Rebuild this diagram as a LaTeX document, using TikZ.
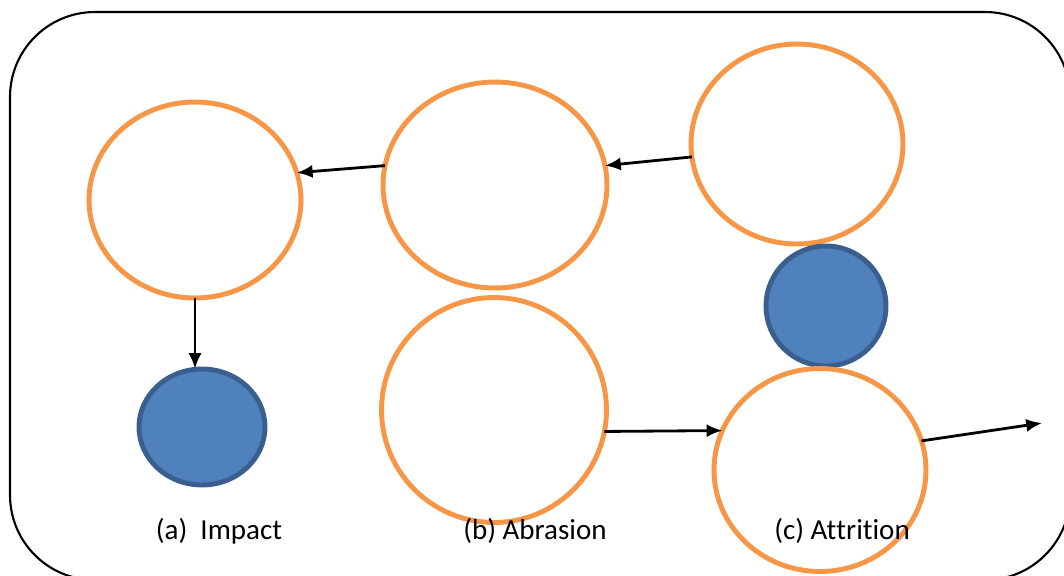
\documentclass[tikz,border=0pt]{standalone}
\usepackage{fontspec}
\setmainfont{Carlito}[Ligatures=NoCommon, RawFeature={-liga;-clig;-calt;-dlig}]
\usepackage{tikz}
\usetikzlibrary{shapes, arrows.meta}
\usepackage{xcolor}
\definecolor{rockorange}{HTML}{F79646}
\definecolor{gritfill}{HTML}{4F81BD}
\definecolor{gritline}{HTML}{3A5F8E}

\begin{document}
\begin{tikzpicture}[%
        >={Latex[length=9pt, width=7.5pt]},
        x=0.02cm, y=-0.02cm,        % one unit is one pixel of the sketch
        font=\fontsize{16.5}{19}\selectfont,
    ]
    \tikzset{
        base/.style={inner sep=0pt, outer sep=0pt},
        rock/.style={base, ellipse, draw=rockorange, line width=2.8pt},
        grit/.style={base, circle, draw=gritline, fill=gritfill, line width=2.8pt},
        lab/.style={base, anchor=center},
        % -------------------------------------------------
        % Connector line style
        norm/.style={->, draw, black, line width=1.6pt},
        frame/.style={draw, black, line width=1.2pt, rounded corners=1.7cm}
    }
    \useasboundingbox (0,0) rectangle (1064,575);
    \clip (0,0) rectangle (1064,575);
    \draw [frame] (10,12) rectangle (1070,580);
    %%% Blocks
    % -- (a) impact
    \node [rock, minimum width=4.24cm, minimum height=3.92cm] (imp_rock) at (195,200) {};
    \node [grit, minimum width=2.52cm, minimum height=2.32cm, ellipse] (imp_grit) at (202,427) {};
    % -- (b) abrasion
    \node [rock, minimum width=4.48cm, minimum height=4.12cm] (abr_top) at (495,185) {};
    \node [rock, minimum width=4.5cm, minimum height=4.5cm] (abr_bot) at (494,410) {};
    % -- (c) attrition
    \node [rock, minimum width=4.24cm, minimum height=4.0cm] (att_top) at (797,144) {};
    \node [grit, minimum size=2.4cm] (att_grit) at (826,306) {};
    \node [rock, minimum width=4.24cm, minimum height=4.06cm] (att_bot) at (820,470) {};
    %%% Labels
    \node [lab] (lab_a) at (219,531) {(a)\ \ Impact};
    \node [lab] (lab_b) at (535,531) {(b) Abrasion};
    \node [lab] (lab_c) at (842,531) {(c) At\kern0pt trit\kern0pt ion};
    %%% Nodes
    \coordinate (out) at (1042,423);
    %%% Connectors
    \draw [norm] (att_top.187) -- (abr_top.10);
    \draw [norm] (abr_top.170) -- (imp_rock.15);
    \draw [norm] (imp_rock.south) -- (imp_rock.south |- imp_grit.north);
    \draw [norm] (abr_bot.-11) -- (att_bot.158);
    \draw [norm] (att_bot.16) -- (out);
\end{tikzpicture}
\end{document}
